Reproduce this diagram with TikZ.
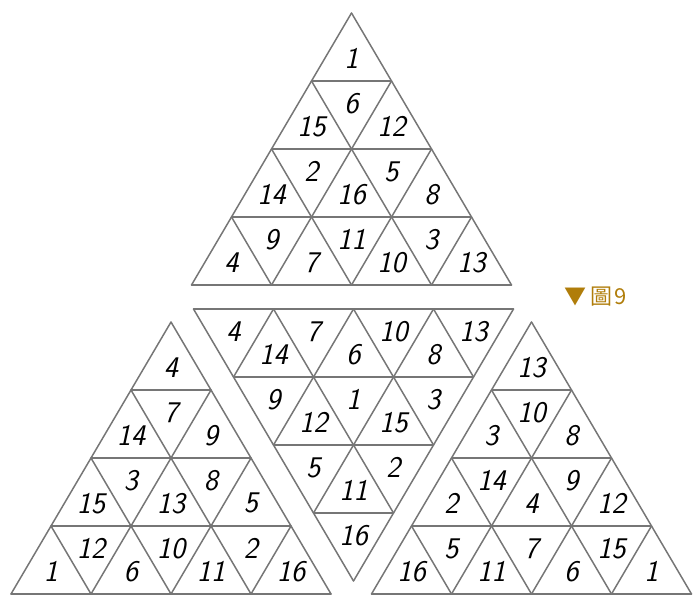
\documentclass[tikz,border=0pt]{standalone}
\usepackage{fontspec}
\newfontfamily\cjkfont{Noto Sans CJK TC}
\usetikzlibrary{calc}
\definecolor{edge}{HTML}{767676}
\definecolor{gold}{HTML}{B07D0A}

% grid of one big triangle, apex at the origin, rows going along +y
\newcommand{\trigrid}{
  \foreach \row in {1,...,4}
    \draw[edge] (-\row*40, \row*68) -- (\row*40, \row*68);
  \foreach \k in {0,...,3} {
    \draw[edge] (-160+80*\k, 272) -- (40*\k, 68*\k);
    \draw[edge] (160-80*\k, 272) -- (-40*\k, 68*\k);
  }
}
% numbers of one big triangle, row by row from the apex
\newcommand{\trinums}[2]{
  \foreach \nums [count=\row from 0] in {#2} {
    \foreach \n [count=\col from 0] in \nums {
      \pgfmathsetmacro\dy{ifthenelse(mod(\col,2)==0,45.3,22.7)}
      \node[num] (#1-\row-\col) at ({(\col-\row)*40}, {\row*68+\dy}) {\n};
    }
  }
}

\begin{document}
\begin{tikzpicture}[x=1pt, y=-1pt,
      edge/.style={draw=edge, line width=1.5pt, line cap=round},
      num/.style={font=\fontsize{30}{30}\selectfont\sffamily\itshape, inner sep=0pt},
      caption/.style={font=\fontsize{22}{22}\selectfont\cjkfont, text=gold, inner sep=0pt}]
    \useasboundingbox (0,0) rectangle (696,596);
    % top
    \begin{scope}[shift={(351.5,13)}]
      \trigrid
      \trinums{top}{{1},{15,6,12},{14,2,16,5,8},{4,9,7,11,10,3,13}}
    \end{scope}
    % middle, upside down
    \begin{scope}[shift={(353.5,581)}, yscale=-1]
      \trigrid
      \trinums{mid}{{16},{5,11,2},{9,12,1,15,3},{4,14,7,6,10,8,13}}
    \end{scope}
    % bottom left
    \begin{scope}[shift={(171,322)}]
      \trigrid
      \trinums{left}{{4},{14,7,9},{15,3,13,8,5},{1,12,6,10,11,2,16}}
    \end{scope}
    % bottom right
    \begin{scope}[shift={(531.5,322)}]
      \trigrid
      \trinums{right}{{13},{3,10,8},{2,14,4,9,12},{16,5,11,7,6,15,1}}
    \end{scope}
    \node[caption, anchor=west] (fig) at (564,297) {▼\hspace{4pt}圖\hspace{2pt}9};
  \end{tikzpicture}
\end{document}
